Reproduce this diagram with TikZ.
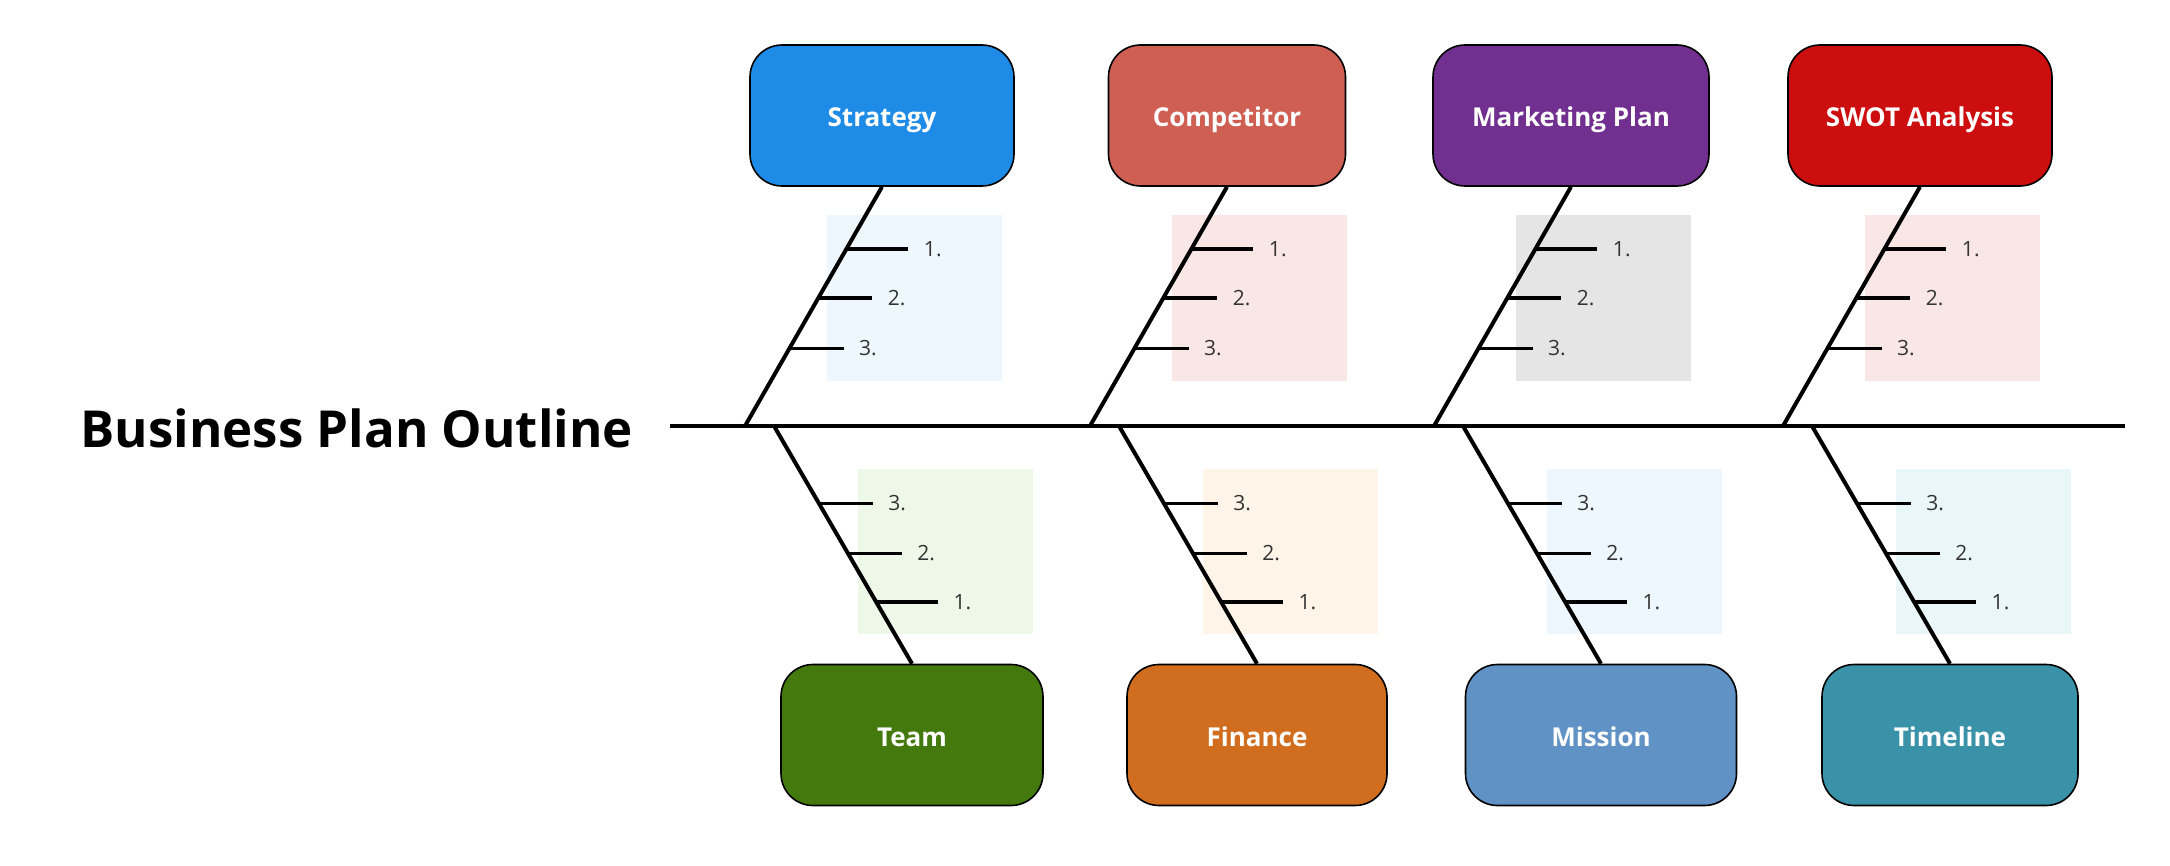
\documentclass[tikz,border=0pt]{standalone}
\usepackage{fontspec}
\setmainfont{Open Sans}
\usetikzlibrary{calc}

\definecolor{strategyC}{HTML}{1E8BE6}
\definecolor{competitorC}{HTML}{CF5F53}
\definecolor{marketingC}{HTML}{71308F}
\definecolor{swotC}{HTML}{CC0E0E}
\definecolor{teamC}{HTML}{43790D}
\definecolor{financeC}{HTML}{D06D1F}
\definecolor{missionC}{HTML}{6092C5}
\definecolor{timelineC}{HTML}{3992A8}
\definecolor{strategyL}{HTML}{EEF6FE}
\definecolor{competitorL}{HTML}{F9E7E6}
\definecolor{marketingL}{HTML}{E5E5E5}
\definecolor{swotL}{HTML}{F9E7E6}
\definecolor{teamL}{HTML}{EEF8E8}
\definecolor{financeL}{HTML}{FEF5E8}
\definecolor{missionL}{HTML}{EEF6FE}
\definecolor{timelineL}{HTML}{E9F7F8}
\definecolor{itemtext}{HTML}{333333}

\begin{document}
\begin{tikzpicture}[x=0.5pt,y=-0.5pt,
    cat/.style={draw=black,line width=0.8pt,rounded corners=16pt,text=white,
      font=\fontsize{13}{16}\selectfont\bfseries,minimum height=70.5pt,
      text height=13pt,text depth=1.5pt},
    bone/.style={line width=2pt},
    rib/.style={line width=1.6pt},
    item/.style={anchor=west,inner sep=0pt,text=itemtext,xshift=7pt,
      font=\fontsize{10.5}{12}\selectfont}]
    \useasboundingbox (0,0) rectangle (2170,866);

    % head and spine
    \node[anchor=base west,inner sep=0pt,font=\fontsize{25.5}{30}\selectfont\bfseries] (title) at (80,447) {Business Plan Outline};
    \coordinate (head) at (670,426);
    \coordinate (tail) at (2125,426);
    \draw[bone] (head) -- (tail);

    % upper bones
    \foreach \n/\x/\w/\c/\l/\t in {strategy/882/132/strategyC/strategyL/Strategy,
        competitor/1227/118.5/competitorC/competitorL/Competitor,
        marketing/1571/138/marketingC/marketingL/Marketing Plan,
        swot/1920/132/swotC/swotL/SWOT Analysis} {
      \fill[\l] (\x-55,215) rectangle (\x+120,381);
      \node[cat,fill=\c,minimum width=\w pt] (\n) at (\x,115.5) {\t};
      \coordinate (\n-s) at (\x-137,426);
      \draw[bone] (\n.south) -- (\n-s);
      \foreach \f/\len/\k in {0.26/62/1,0.465/54/2,0.675/54/3}
        \draw[rib] ($(\n.south)!\f!(\n-s)$) -- ++(\len,0) node[item] {\k.};
    }

    % lower bones
    \foreach \n/\x/\w/\c/\l/\t in {team/912/131/teamC/teamL/Team,
        finance/1257/130/financeC/financeL/Finance,
        mission/1601/135.5/missionC/missionL/Mission,
        timeline/1950/128/timelineC/timelineL/Timeline} {
      \fill[\l] (\x-54,469) rectangle (\x+121,634);
      \node[cat,fill=\c,minimum width=\w pt] (\n) at (\x,735) {\t};
      \coordinate (\n-s) at (\x-138,426);
      \draw[bone] (\n.north) -- (\n-s);
      \foreach \f/\len/\k in {0.26/62/1,0.465/54/2,0.675/54/3}
        \draw[rib] ($(\n.north)!\f!(\n-s)$) -- ++(\len,0) node[item] {\k.};
    }
\end{tikzpicture}
\end{document}
